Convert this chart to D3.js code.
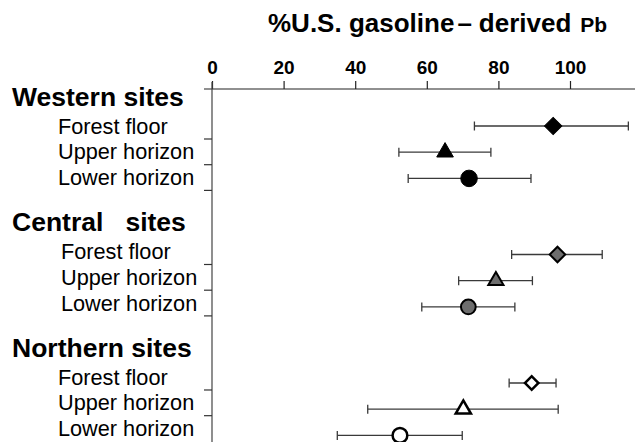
<!DOCTYPE html>
<html>
<head>
<meta charset="utf-8">
<script src="https://cdn.jsdelivr.net/npm/d3@7"></script>
<style>
  html, body { margin: 0; padding: 0; background: #fff; }
  svg { display: block; }
  text { font-family: "Liberation Sans", Arial, sans-serif; fill: #000; }
</style>
</head>
<body>
<svg id="chart" width="635" height="442"></svg>
<script>
// Site groups and soil layers
const groups = ["Western sites", "Central   sites", "Northern sites"];
const horizons = ["Forest floor", "Upper horizon", "Lower horizon"];

// % U.S. gasoline-derived Pb: mean and range per group (rows follow horizons)
const westernMean = [95.3, 65.1, 71.8];
const westernLow  = [73.3, 52.2, 54.8];
const westernHigh = [116.3, 77.9, 89.1];

const centralMean = [96.5, 79.3, 71.6];
const centralLow  = [83.7, 68.9, 58.6];
const centralHigh = [109.0, 89.5, 84.6];

const northernMean = [89.3, 70.2, 52.5];
const northernLow  = [83.0, 43.5, 35.0];
const northernHigh = [96.1, 96.7, 69.9];

const xTicks = [0, 20, 40, 60, 80, 100];

const groupMeans = [westernMean, centralMean, northernMean];
const groupLows = [westernLow, centralLow, northernLow];
const groupHighs = [westernHigh, centralHigh, northernHigh];

const rows = [];
groups.forEach((g, gi) => {
  horizons.forEach((h, ri) => {
    rows.push({ group: gi, row: ri, horizon: h,
      mean: groupMeans[gi][ri], low: groupLows[gi][ri], high: groupHighs[gi][ri] });
  });
});

const svg = d3.select("#chart");

const x = d3.scaleLinear().domain([0, 100]).range([212, 570]);

// vertical layout: slot = group * groupStep + row
const labelStep = 4.883, pointStep = 4.905;
const labelY = d3.scaleLinear().domain([0, 1]).range([126, 151.7]);
const pointY = d3.scaleLinear().domain([0, 1]).range([126, 152.2]);

// title
const title = svg.append("text")
  .attr("x", 268).attr("y", 32)
  .attr("font-weight", "bold");
title.append("tspan").attr("font-size", 26).text("%U.S. gasoline");
title.append("tspan").attr("font-size", 26).attr("dx", 3).text("\u2013");
title.append("tspan").attr("font-size", 26).attr("dx", 7).text("derived");
title.append("tspan").attr("font-size", 21).attr("dx", 9).text("Pb");

// top axis
const xAxis = d3.axisTop(x).tickValues(xTicks).tickSize(8).tickSizeOuter(0).tickPadding(7);
const axG = svg.append("g").attr("transform", "translate(0,89)").call(xAxis);
axG.select(".domain").remove();
axG.selectAll(".tick line").attr("stroke", "#222").attr("stroke-width", 1.2);
axG.selectAll(".tick text")
  .attr("font-size", 19).attr("font-weight", "bold")
  .attr("font-family", "'Liberation Sans', Arial, sans-serif").attr("fill", "#000");

svg.append("line")
  .attr("x1", 204).attr("x2", 635).attr("y1", 89).attr("y2", 89)
  .attr("stroke", "#222").attr("stroke-width", 1.2);

// left axis line
svg.append("line")
  .attr("x1", x(0)).attr("x2", x(0)).attr("y1", 82).attr("y2", 442)
  .attr("stroke", "#444").attr("stroke-width", 1.2);

// row separators on the left axis
const sepY = d => labelY(d.group * labelStep + d.row) + 13;
svg.selectAll("line.rowtick").data(rows.filter(d => sepY(d) < 438)).enter().append("line")
  .attr("class", "rowtick")
  .attr("x1", x(0) - 8).attr("x2", x(0))
  .attr("y1", sepY)
  .attr("y2", sepY)
  .attr("stroke", "#333").attr("stroke-width", 1.2);

// group headers
svg.selectAll("text.group").data(groups).enter().append("text")
  .attr("class", "group")
  .attr("x", 12)
  .attr("y", (d, i) => labelY(i * labelStep - 1.15) + 9.4)
  .attr("font-size", 26.5).attr("font-weight", "bold")
  .style("white-space", "pre")
  .text(d => d);

// horizon labels
svg.selectAll("text.horizon").data(rows).enter().append("text")
  .attr("class", "horizon")
  .attr("x", d => d.group === 1 ? 61 : 58)
  .attr("y", d => labelY(d.group * labelStep + d.row) + 7.7)
  .attr("font-size", 21.7)
  .text(d => d.horizon);

// error bars
const bars = svg.selectAll("g.err").data(rows).enter().append("g")
  .attr("class", "err")
  .attr("transform", d => `translate(0,${pointY(d.group * pointStep + d.row)})`);
bars.append("line")
  .attr("x1", d => x(d.low)).attr("x2", d => x(d.high))
  .attr("stroke", "#3a3a3a").attr("stroke-width", 1.3);
bars.append("line")
  .attr("x1", d => x(d.low)).attr("x2", d => x(d.low))
  .attr("y1", -4.5).attr("y2", 4.5)
  .attr("stroke", "#3a3a3a").attr("stroke-width", 1.3);
bars.append("line")
  .attr("x1", d => x(d.high)).attr("x2", d => x(d.high))
  .attr("y1", -4.5).attr("y2", 4.5)
  .attr("stroke", "#3a3a3a").attr("stroke-width", 1.3);

// markers: shape by horizon, fill by group
const fills = ["#000", "#6e6e6e", "#fff"];
const strokeW = [1, 2, 2.5];
function markerPath(d) {
  const filled = d.group === 0;
  if (d.row === 0) return d3.symbol(d3.symbolSquare, filled ? 150 : (d.group === 1 ? 120 : 90))();
  if (d.row === 1) return d3.symbol(d3.symbolTriangle, filled ? 120 : 100)();
  return d3.symbol(d3.symbolCircle, filled ? 215 : 170)();
}
svg.selectAll("path.mark").data(rows).enter().append("path")
  .attr("class", "mark")
  .attr("d", markerPath)
  .attr("transform", d => `translate(${x(d.mean)},${pointY(d.group * pointStep + d.row)})` + (d.row === 0 ? " rotate(45)" : ""))
  .attr("fill", d => fills[d.group])
  .attr("stroke", "#000")
  .attr("stroke-width", d => strokeW[d.group])
  .attr("stroke-linejoin", "miter");
</script>
</body>
</html>
